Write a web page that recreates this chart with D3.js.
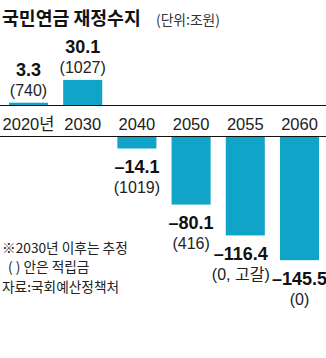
<!DOCTYPE html>
<html><head><meta charset="utf-8">
<script src="https://cdn.jsdelivr.net/npm/d3@7"></script>
<style>
html,body{margin:0;padding:0;background:#fff;}
svg{display:block;}
</style></head>
<body>
<script>
const categories = ["2020년","2030","2040","2050","2055","2060"];
const balance = [3.3, 30.1, -14.1, -80.1, -116.4, -145.5];
const valueLabels = ["3.3","30.1","\u201314.1","\u201380.1","\u2013116.4","\u2013145.5"];
const fundLabels = ["(740)","(1027)","(1019)","(416)","(0, 고갈)","(0)"];
const titleText = "국민연금 재정수지";
const unitText = "(단위:조원)";
const notes = ["※2030년 이후는 추정", "( ) 안은 적립금", "자료:국회예산정책처"];

const W = 326, H = 358;
const barColor = "#10a4c8";
const numFont = "'Liberation Sans Narrow','Liberation Sans','Noto Sans CJK KR',sans-serif";
const krFont = "'Noto Sans CJK KR','Noto Sans',sans-serif";

const svg = d3.select("body").append("svg").attr("width", W).attr("height", H);

const x = d3.scaleBand().domain(categories).range([9, 319]).paddingInner(0.28).paddingOuter(0);
const h = d3.scaleLinear().domain([0, 150]).range([0, 127.5]);
const posBase = 105.5, negBase = 136.5;

// title
svg.append("text").attr("x", 2).attr("y", 24.5)
  .attr("font-family", krFont).attr("font-weight", 700).attr("font-size", 18.3)
  .attr("fill", "#111").text(titleText);
svg.append("text").attr("x", 156).attr("y", 24.5)
  .attr("font-family", krFont).attr("font-size", 13.8)
  .attr("fill", "#333").text(unitText);

// bars
svg.selectAll("rect.bar").data(balance).join("rect")
  .attr("class", "bar")
  .attr("x", (d, i) => x(categories[i]))
  .attr("width", x.bandwidth())
  .attr("y", d => d >= 0 ? posBase - h(d) : negBase)
  .attr("height", d => h(Math.abs(d)))
  .attr("fill", barColor);

// baselines
svg.append("line").attr("x1", 0).attr("x2", W).attr("y1", posBase).attr("y2", posBase)
  .attr("stroke", "#111").attr("stroke-width", 1.2);
svg.append("line").attr("x1", 0).attr("x2", W).attr("y1", negBase).attr("y2", negBase)
  .attr("stroke", "#111").attr("stroke-width", 1.2);

// category axis
const axis = svg.append("g").attr("transform", `translate(0,129.5)`)
  .call(d3.axisBottom(x).tickSize(0).tickPadding(0));
axis.select(".domain").remove();
axis.selectAll("text").attr("y", 0).attr("dy", 0)
  .attr("font-family", "'Liberation Sans','Noto Sans CJK KR',sans-serif")
  .attr("font-size", 16.5).attr("fill", "#222");

// value labels (the 2055 pair is nudged left to clear the 2060 labels)
const cx = i => x(categories[i]) + x.bandwidth() / 2 - (i === 4 ? 4.5 : 0);
svg.selectAll("text.val").data(balance).join("text")
  .attr("class", "val")
  .attr("x", (d, i) => cx(i))
  .attr("y", d => d >= 0 ? posBase - h(d) - 26.5 : negBase + h(-d) + 24.5)
  .attr("text-anchor", "middle")
  .attr("font-family", numFont).attr("font-weight", 700).attr("font-size", 18)
  .attr("fill", "#111")
  .text((d, i) => valueLabels[i]);

svg.selectAll("text.fund").data(balance).join("text")
  .attr("class", "fund")
  .attr("x", (d, i) => cx(i))
  .attr("y", d => d >= 0 ? posBase - h(d) - 7 : negBase + h(-d) + 44.5)
  .attr("text-anchor", "middle")
  .attr("font-family", numFont).attr("font-size", 16)
  .attr("fill", "#222")
  .text((d, i) => fundLabels[i]);

// notes
svg.selectAll("text.note").data(notes).join("text")
  .attr("class", "note")
  .attr("x", (d, i) => i === 1 ? 8 : 2)
  .attr("y", (d, i) => [253, 272, 292][i])
  .attr("font-family", krFont).attr("font-size", 13.7)
  .attr("fill", "#222")
  .text(d => d);
</script>
</body></html>
